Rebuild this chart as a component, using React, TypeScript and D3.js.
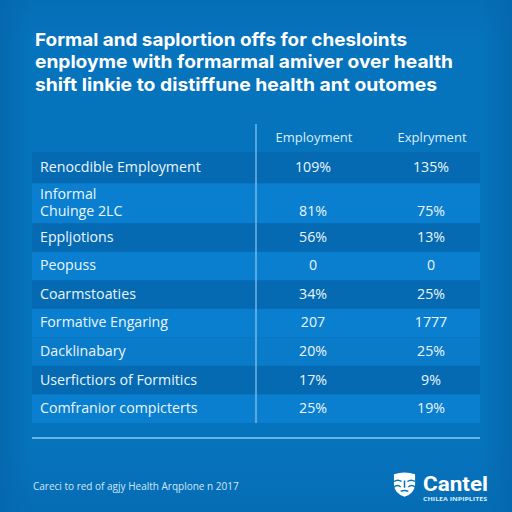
import * as React from 'react';
import * as d3 from 'd3';

const titleLines = [
  'Formal and saplortion offs for chesloints',
  'enployme with formarmal amiver over health',
  'shift linkie to distiffune health ant outomes',
];
const columns = ['Employment', 'Explryment'];
const rowLabels = [
  ['Renocdible Employment'],
  ['Informal', 'Chuinge 2LC'],
  ['Eppljotions'],
  ['Peopuss'],
  ['Coarmstoaties'],
  ['Formative Engaring'],
  ['Dacklinabary'],
  ['Userfictiors of Formitics'],
  ['Comfranior compicterts'],
];
const employmentValues = ['109%', '81%', '56%', '0', '34%', '207', '20%', '17%', '25%'];
const explrymentValues = ['135%', '75%', '13%', '0', '25%', '1777', '25%', '9%', '19%'];
const footnote = 'Careci to red of agjy Health Arqplone n 2017';

const FONT = '"Open Sans", sans-serif';
const LINE_GAP = 17.5;
const TITLE_WIDTHS = [372, 418, 402];
// first row sits a bit taller, two-line row taller still
const spans = rowLabels.map((l, i) => (l.length > 1 ? 1.4 : i === 0 ? 1.1 : 1));
const starts = [0, ...d3.cumsum(spans)];

export default function App() {
  const y = d3.scaleLinear().domain([0, starts[starts.length - 1]]).range([152, 423]);
  const x = d3.scaleBand<string>().domain(columns).range([254, 490]);
  const center = (c: string) => (x(c) || 0) + x.bandwidth() / 2;
  const rowMid = (i: number) => (y(starts[i]) + y(starts[i + 1])) / 2 - 1.2;

  return (
    <svg width={512} height={512} style={{ position: 'absolute', left: 0, top: 0 }} fontFamily={FONT}>
      <defs>
        <linearGradient id="bgEdge" x1="0" x2="1" y1="0" y2="0">
          <stop offset="0" stopColor="#0568ae" />
          <stop offset="0.06" stopColor="#0673bd" />
          <stop offset="0.94" stopColor="#0673bd" />
          <stop offset="1" stopColor="#0568ae" />
        </linearGradient>
        <linearGradient id="bgFade" x1="0" x2="0" y1="0" y2="1">
          <stop offset="0" stopColor="#0568ae" stopOpacity="0.5" />
          <stop offset="0.08" stopColor="#0568ae" stopOpacity="0" />
          <stop offset="0.88" stopColor="#0568ae" stopOpacity="0" />
          <stop offset="1" stopColor="#0568ae" stopOpacity="0.6" />
        </linearGradient>
      </defs>
      <rect width={512} height={512} fill="url(#bgEdge)" />
      <rect width={512} height={512} fill="url(#bgFade)" />

      <g fill="#fff" fontWeight={700} fontSize={18} fontFamily='"Inter", sans-serif'>
        {titleLines.map((t, i) => (
          <text key={i} x={35} y={45.7 + i * 22.5} textLength={TITLE_WIDTHS[i]} lengthAdjust="spacingAndGlyphs">{t}</text>
        ))}
      </g>

      {rowLabels.map((_, i) => (
        <rect
          key={i}
          x={32}
          width={448}
          y={y(starts[i])}
          height={y(starts[i + 1]) - y(starts[i])}
          fill={i === 0 || i === 2 || i === 4 || i === 7 ? '#056ab2' : i === 6 ? '#0a7bc9' : '#0a7fcf'}
        />
      ))}

      <line x1={256} x2={256} y1={124} y2={423} stroke="#8cc8ee" strokeWidth={1.2} />
      <line x1={32} x2={480} y1={438} y2={438} stroke="#8cc8ee" strokeWidth={1.4} />

      <g fill="#d8eefb" fontSize={13} textAnchor="middle">
        {columns.map(c => (
          <text key={c} x={center(c) + 1} y={142}>{c}</text>
        ))}
      </g>

      <g fill="#eaf6fd" fontSize={14.2}>
        {rowLabels.map((lines, i) =>
          lines.map((l, j) => (
            <text key={l} x={40} y={rowMid(i) + (j - (lines.length - 1) / 2) * LINE_GAP} dominantBaseline="central">{l}</text>
          ))
        )}
      </g>

      <g fill="#eaf6fd" fontSize={14.2} textAnchor="middle">
        {rowLabels.map((lines, i) => {
          // values line up with the last label line
          const vy = rowMid(i) + ((lines.length - 1) / 2) * LINE_GAP;
          return (
            <React.Fragment key={i}>
              <text x={center(columns[0])} y={vy} dominantBaseline="central">{employmentValues[i]}</text>
              <text x={center(columns[1])} y={vy} dominantBaseline="central">{explrymentValues[i]}</text>
            </React.Fragment>
          );
        })}
      </g>

      <text x={33} y={490} fill="#cfe8f8" fontSize={10}>{footnote}</text>

      {/* logo */}
      <g transform="translate(393,472.5) scale(0.96,0.9)">
        <path d="M1 2 Q12 -2 23 2 L23 14 Q22 24 12 27 Q2 24 1 14 Z" fill="#fff" />
        <path d="M1 10 Q5 7 9 10 M15 10 Q19 7 23 10 M1 16 Q5 13 8 16 M16 16 Q19 13 23 16 M12 9 L12 17 M8 21 Q12 19 16 21" fill="none" stroke="#0673bd" strokeWidth={1.6} />
      </g>
      <text x={423} y={491} fill="#fff" fontSize={21} fontWeight={700} fontFamily='"Roboto", sans-serif' textLength={65} lengthAdjust="spacingAndGlyphs">Cantel</text>
      <text x={423} y={501} fill="#d8eefb" fontSize={5.5} fontWeight={700} textLength={64} lengthAdjust="spacingAndGlyphs">CHILEA INPIPLITES</text>
    </svg>
  );
}
